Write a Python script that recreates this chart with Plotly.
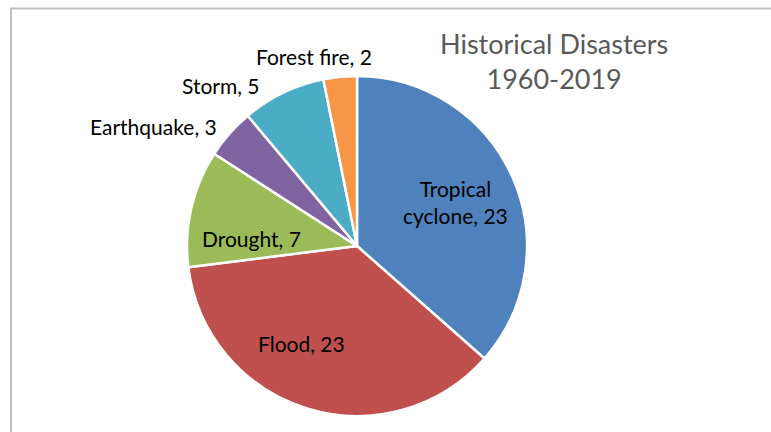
import plotly.graph_objects as go

# Data
categories = ["Tropical cyclone", "Flood", "Drought", "Earthquake", "Storm", "Forest fire"]
values = [23, 23, 7, 3, 5, 2]
colors = ["#4F81BD", "#C0504D", "#9BBB59", "#8064A2", "#4BACC6", "#F79646"]
label_texts = ["Tropical<br>cyclone, 23", "Flood, 23", "Drought, 7", "Earthquake, 3", "Storm, 5", "Forest fire, 2"]

W, H = 771, 432
# layout: label pixel positions (center)
label_px = [(455, 202), (301, 343), (251, 238), (153, 126), (221, 85), (314, 56)]
cx, cy, R = 357, 246, 170

fig = go.Figure()
fig.add_trace(go.Pie(
    labels=categories, values=values, sort=False, direction="clockwise", rotation=0,
    marker=dict(colors=colors, line=dict(color="white", width=2.5)),
    textinfo="none", hoverinfo="label+value", showlegend=False,
    domain=dict(x=[(cx - R) / W, (cx + R) / W], y=[1 - (cy + R) / H, 1 - (cy - R) / H]),
))

font = "Lato, Calibri, Carlito, sans-serif"
annotations = []
for txt, (px, py) in zip(label_texts, label_px):
    annotations.append(dict(x=px / W, y=1 - py / H, xref="paper", yref="paper", text=txt,
                            showarrow=False, xanchor="center", yanchor="middle",
                            font=dict(family=font, size=21, color="#000000")))
annotations.append(dict(x=554 / W, y=1 - 61 / H, xref="paper", yref="paper",
                        text="Historical Disasters<br>1960-2019", showarrow=False,
                        xanchor="center", yanchor="middle",
                        font=dict(family=font, size=27, color="#595959")))

fig.update_layout(
    width=W, height=H, margin=dict(l=0, r=0, t=0, b=0),
    paper_bgcolor="white", plot_bgcolor="white",
    annotations=annotations,
    shapes=[dict(type="rect", xref="paper", yref="paper", x0=11 / W, x1=1.05,
                 y0=-0.05, y1=1 - 8.5 / H, line=dict(color="#BFBFBF", width=2))],
)
fig.write_html("out.html")
